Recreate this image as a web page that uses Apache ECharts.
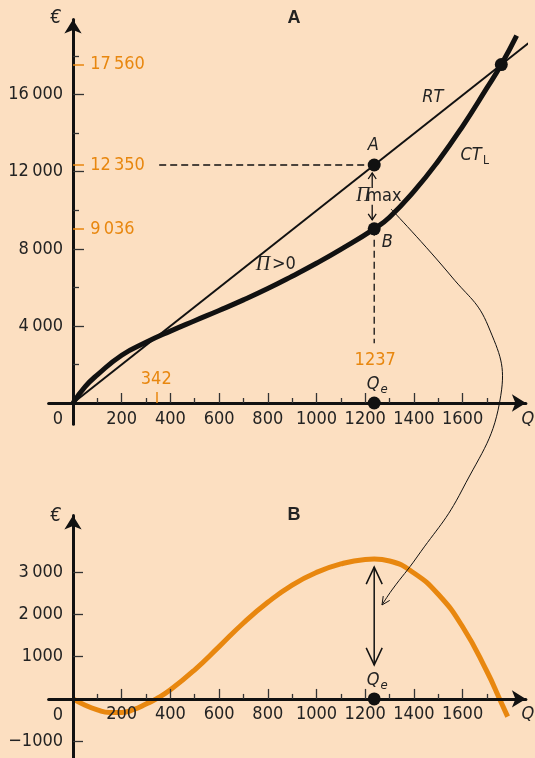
<!DOCTYPE html>
<html>
<head>
<meta charset="utf-8">
<script src="https://cdn.jsdelivr.net/npm/echarts@6/dist/echarts.min.js"></script>
<style>
  html, body { margin: 0; padding: 0; background: #fcdfc1; }
  #c { width: 535px; height: 758px; }
</style>
</head>
<body>
<div id="c"></div>
<script>
// ---- Values (Q = output, amounts in euros) ----
const qe = 1237;             // profit-maximising output Qe
const rtAtQe = 12350;        // total revenue at Qe (point A)
const ctAtQe = 9036;         // total cost at Qe (point B)
const profitMax = rtAtQe - ctAtQe;
const qBreakEven = 342;      // lower break-even output
const qUpper = 1759;         // upper break-even output
const valueUpper = 17560;    // revenue = cost at the upper break-even
const guideStartQ = 354;     // where the dashed guide to A starts
const guideEndValue = 3100;  // where the dashed guide below B stops

// total revenue RT (straight line)
const rtQ = [0, 1870];
const rtValue = [0, 18670];

// long-run total cost CT_L
const ctQ = [0, 50, 100, 200, 300, 400, 500, 600, 700, 800, 900, 1000, 1100, 1237, 1300, 1400, 1500, 1600, 1700, 1759, 1822];
const ctValue = [0, 850, 1460, 2480, 3150, 3730, 4270, 4800, 5350, 5940, 6580, 7250, 7970, 9036, 9640, 10980, 12560, 14360, 16350, 17560, 19060];

// profit Π = RT − CT (lower panel)
const profitQ = [0, 50, 100, 150, 200, 250, 300, 342, 400, 500, 600, 700, 800, 900, 1000, 1100, 1200, 1237, 1300, 1400, 1500, 1600, 1700, 1752, 1785];
const profitValue = [0, -150, -260, -320, -320, -250, -120, 0, 215, 690, 1240, 1800, 2290, 2700, 3000, 3200, 3305, 3314, 3270, 2985, 2480, 1710, 650, 0, -420];

// axis ticks and labels
const xMajor = [200, 400, 600, 800, 1000, 1200, 1400, 1600];
const xMinor = [100, 300, 500, 700, 900, 1100, 1300, 1500, 1700];
const yTopMajor = [4000, 8000, 12000, 16000];
const yTopMinor = [2000, 6000, 10000, 14000, 18000];
const yTopMarked = [ctAtQe, rtAtQe, valueUpper];
const yBottomMajor = [-1000, 1000, 2000, 3000];

// ---- Styling ----
const FONT = '"Liberation Sans Narrow", "DejaVu Sans Condensed", "Liberation Sans", sans-serif';
const SERIF = '"Liberation Serif", "DejaVu Serif", serif';
const INK = '#111111';
const TEXT = '#232323';
const ORANGE = '#e8870f';

const pairs = (xs, ys) => xs.map((x, i) => [x, ys[i]]);

function fmt(v) {
  const a = Math.abs(v);
  let s = String(a);
  if (a >= 2000) s = s.slice(0, -3) + '\u2009' + s.slice(-3);
  return (v < 0 ? '\u2212' : '') + s;
}

const X_RANGE = { min: -100, max: 1860 };
const TOP_Y = { min: -1100, max: 19900 };
const BOT_Y = { min: -1400, max: 4350 };

// grid boxes; axis lines sit on the zeros, labels are offset from the grid edges
const GRID_LEFT = 48.65;
const GRID_TOP = [19.5, 515.4];
const GRID_H = [404.7, 242.6];
const Y_LABEL_MARGIN = -14.4;
const X_LABEL_MARGIN = [-13.5, -52.5];

function xAxis(grid, zeroIdx, ticks, len, labels, extra) {
  return Object.assign({
    type: 'value', gridIndex: grid, position: 'bottom',
    min: X_RANGE.min, max: X_RANGE.max,
    axisLine: { show: false, onZero: true, onZeroAxisIndex: zeroIdx },
    axisTick: { show: true, inside: true, length: len, customValues: ticks, lineStyle: { color: '#333', width: 1.3 } },
    axisLabel: labels ? { show: true, customValues: labels, margin: X_LABEL_MARGIN[grid], color: TEXT, fontFamily: FONT, fontSize: 18, formatter: v => String(v) } : { show: false },
    splitLine: { show: false }, z: 3
  }, extra || {});
}
function yAxis(grid, zeroIdx, range, ticks, len, labels, extra) {
  return Object.assign({
    type: 'value', gridIndex: grid, position: 'left',
    min: range.min, max: range.max,
    axisLine: { show: false, onZero: true, onZeroAxisIndex: zeroIdx },
    axisTick: { show: true, inside: true, length: len, customValues: ticks, lineStyle: { color: '#333', width: 1.3 } },
    axisLabel: labels ? { show: true, customValues: labels, margin: Y_LABEL_MARGIN, color: TEXT, fontFamily: FONT, fontSize: 18, formatter: fmt } : { show: false },
    splitLine: { show: false }, z: 3
  }, extra || {});
}
const mainLine = { show: true, symbol: ['none', 'arrow'], symbolSize: [13, 14], lineStyle: { color: INK, width: 3 } };

const option = {
  animation: false,
  backgroundColor: '#fcdfc1',
  grid: [
    { left: GRID_LEFT, right: 9.1, top: GRID_TOP[0], height: GRID_H[0], containLabel: false, outerBoundsMode: 'none' },
    { left: GRID_LEFT, right: 9.1, top: GRID_TOP[1], height: GRID_H[1], containLabel: false, outerBoundsMode: 'none' }
  ],
  xAxis: [
    xAxis(0, 0, xMajor, 10, xMajor, { axisLine: Object.assign({ onZero: true, onZeroAxisIndex: 0 }, mainLine) }),
    xAxis(0, 0, xMinor, 5, null),
    xAxis(0, 0, [qBreakEven], 11, null, {
      axisTick: { show: true, inside: true, length: 11, customValues: [qBreakEven], lineStyle: { color: ORANGE, width: 1.5 } },
      axisLabel: { show: true, inside: true, customValues: [qBreakEven], margin: 36, verticalAlign: 'bottom', align: 'center', color: ORANGE, fontFamily: FONT, fontSize: 18, formatter: v => String(v) }
    }),
    xAxis(1, 3, xMajor, 10, xMajor, { axisLine: Object.assign({ onZero: true, onZeroAxisIndex: 3 }, mainLine) }),
    xAxis(1, 3, xMinor, 5, null)
  ],
  yAxis: [
    yAxis(0, 0, TOP_Y, yTopMajor, 11, yTopMajor, { axisLine: Object.assign({ onZero: true, onZeroAxisIndex: 0 }, mainLine) }),
    yAxis(0, 0, TOP_Y, yTopMinor, 6, null),
    yAxis(0, 0, TOP_Y, yTopMarked, 11, null, {
      axisTick: { show: true, inside: true, length: 11, customValues: yTopMarked, lineStyle: { color: ORANGE, width: 1.5 } },
      axisLabel: { show: true, inside: true, customValues: yTopMarked, margin: 41.5, align: 'left', verticalAlign: 'middle', color: ORANGE, fontFamily: FONT, fontSize: 18, formatter: fmt }
    }),
    yAxis(1, 3, BOT_Y, yBottomMajor, 10, yBottomMajor, { axisLine: Object.assign({ onZero: true, onZeroAxisIndex: 3 }, mainLine) })
  ],
  series: [
    { // dashed guides to A and below B
      type: 'line', xAxisIndex: 0, yAxisIndex: 0, symbol: 'none', z: 2,
      data: [[guideStartQ, rtAtQe], [qe, rtAtQe]],
      lineStyle: { color: INK, width: 1.3, type: [7, 4] }
    },
    {
      type: 'line', xAxisIndex: 0, yAxisIndex: 0, symbol: 'none', z: 2,
      data: [[qe, ctAtQe], [qe, guideEndValue]],
      lineStyle: { color: INK, width: 1.3, type: [7, 4] }
    },
    { // RT
      type: 'line', xAxisIndex: 0, yAxisIndex: 0, symbol: 'none', clip: false, z: 3,
      data: pairs(rtQ, rtValue),
      lineStyle: { color: INK, width: 2 }
    },
    { // CT_L
      type: 'line', xAxisIndex: 0, yAxisIndex: 0, symbol: 'none', smooth: 0.5, clip: false, z: 4,
      data: pairs(ctQ, ctValue),
      lineStyle: { color: INK, width: 5, cap: 'butt' }
    },
    { // A, B, upper break-even, Qe
      type: 'scatter', xAxisIndex: 0, yAxisIndex: 0, z: 5,
      symbolSize: 13, itemStyle: { color: INK, opacity: 1 },
      data: [[qe, rtAtQe], [qe, ctAtQe], [qUpper, valueUpper], [qe, 0]]
    },
    { // profit
      type: 'line', xAxisIndex: 3, yAxisIndex: 3, symbol: 'none', smooth: 0.5, clip: false, z: 2,
      data: pairs(profitQ, profitValue),
      lineStyle: { color: ORANGE, width: 5, cap: 'butt' }
    },
    {
      type: 'scatter', xAxisIndex: 3, yAxisIndex: 3, z: 5,
      symbolSize: 13, itemStyle: { color: INK, opacity: 1 },
      data: [[qe, 0]]
    }
  ]
};

const chart = echarts.init(document.getElementById('c'), null, { renderer: 'canvas' });
chart.setOption(option);

// ---- Annotations placed from data coordinates ----
const at = (g, q, v) => chart.convertToPixel(g === 0 ? { xAxisIndex: 0, yAxisIndex: 0 } : { xAxisIndex: 3, yAxisIndex: 3 }, [q, v]);

function txt(p, dx, dy, text, style) {
  return {
    type: 'text', x: p[0] + dx, y: p[1] + dy, z: 20,
    style: Object.assign({ text: text, fill: TEXT, fontFamily: FONT, fontSize: 18, align: 'center', verticalAlign: 'middle' }, style || {})
  };
}
function seg(points, width) {
  return { type: 'polyline', z: 20, shape: { points: points }, style: { stroke: INK, lineWidth: width || 1.3, fill: null, lineJoin: 'miter' } };
}

const A = at(0, qe, rtAtQe);
const B = at(0, qe, ctAtQe);
const Q0 = at(0, qe, 0);
const O0 = at(0, 0, 0);
const O1 = at(1, 0, 0);
const P1 = at(1, qe, profitMax);
const Q1 = at(1, qe, 0);
const xEnd0 = at(0, X_RANGE.max, 0);
const xEnd1 = at(1, X_RANGE.max, 0);
const yEnd0 = at(0, 0, TOP_Y.max);
const yEnd1 = at(1, 0, BOT_Y.max);

const italic = { fontStyle: 'italic' };
const piStyle = { fontFamily: SERIF, fontStyle: 'italic', fontSize: 20 };

const g = [];
// panel titles
g.push(txt([294, 18], 0, 0, 'A', { fontFamily: '"Liberation Sans", sans-serif', fontWeight: 'bold', fontSize: 18 }));
g.push(txt([294, 515], 0, 0, 'B', { fontFamily: '"Liberation Sans", sans-serif', fontWeight: 'bold', fontSize: 18 }));
// axis names and origins
g.push(txt(yEnd0, -17, -1, '€', { fontStyle: 'italic', fontSize: 19 }));
g.push(txt(yEnd1, -17, 1, '€', { fontStyle: 'italic', fontSize: 19 }));
g.push(txt(xEnd0, 2, 16, 'Q', italic));
g.push(txt(xEnd1, 2, 15, 'Q', italic));
g.push(txt(O0, -15, 16, '0'));
g.push(txt(O1, -15, 16, '0'));
// curve names
g.push(txt(at(0, 1478, 15880), 0, 0, 'RT', italic));
g.push(txt(at(0, 1635, 12870), 0, 0, 'CT', italic));
g.push(txt(at(0, 1635, 12870), 15, 6, 'L', { fontSize: 12 }));
// Π > 0
const piPos = at(0, 780, 7190);
g.push(txt(piPos, 0, 0, 'Π', piStyle));
g.push(txt(piPos, 9, 0, '>0', { align: 'left' }));
// points A, B and Qe
g.push(txt(A, -1, -20, 'A', italic));
g.push(txt(B, 13, 13, 'B', italic));
g.push(txt(Q0, 1, -43, String(qe), { fill: ORANGE }));
g.push(txt(Q0, -1, -19, 'Q', italic));
g.push(txt(Q0, 10, -13, 'e', { fontStyle: 'italic', fontSize: 13 }));
g.push(txt(Q1, -1, -19, 'Q', italic));
g.push(txt(Q1, 10, -13, 'e', { fontStyle: 'italic', fontSize: 13 }));
// Π max between A and B
const mx = A[0] - 2;
const midY = (A[1] + B[1]) / 2 - 1;
g.push(txt([mx, midY], -9, 0, 'Π', piStyle));
g.push(txt([mx, midY], -6, 0, 'max', { align: 'left' }));
g.push(seg([[mx, A[1] + 8], [mx, A[1] + 23]]));
g.push(seg([[mx - 4, A[1] + 14], [mx, A[1] + 8], [mx + 4, A[1] + 14]]));
g.push(seg([[mx, B[1] - 24], [mx, B[1] - 9]]));
g.push(seg([[mx - 4, B[1] - 15], [mx, B[1] - 9], [mx + 4, B[1] - 15]]));
// double arrow in the profit panel
const bx = P1[0];
g.push(seg([[bx, P1[1] + 8], [bx, Q1[1] - 34]], 1.5));
g.push(seg([[bx - 8, P1[1] + 25], [bx, P1[1] + 8], [bx + 8, P1[1] + 25]], 1.5));
g.push(seg([[bx - 8, Q1[1] - 51], [bx, Q1[1] - 34], [bx + 8, Q1[1] - 51]], 1.5));
// connector from the gap A–B to the profit maximum
const linkPts = [
  at(0, 1306, 10067), at(0, 1556, 6539), at(0, 1705, 4000), at(0, 1757, 400),
  at(1, 1598, 4953), at(1, 1413, 3365), at(1, 1310, 2583), at(1, 1269, 2227)
];
g.push({ type: 'polyline', z: 20, shape: { points: linkPts, smooth: 0.45 }, style: { stroke: INK, lineWidth: 1, fill: null } });
const e = linkPts[linkPts.length - 1], pv = linkPts[linkPts.length - 2];
const dx = e[0] - pv[0], dy = e[1] - pv[1], dl = Math.hypot(dx, dy);
const ux = dx / dl, uy = dy / dl, hl = 9, ang = Math.PI / 7;
const wing = s => [e[0] - hl * (ux * Math.cos(ang) - s * uy * Math.sin(ang)), e[1] - hl * (uy * Math.cos(ang) + s * ux * Math.sin(ang))];
g.push(seg([wing(1), e, wing(-1)], 1));

chart.setOption({ graphic: g });
</script>
</body>
</html>
